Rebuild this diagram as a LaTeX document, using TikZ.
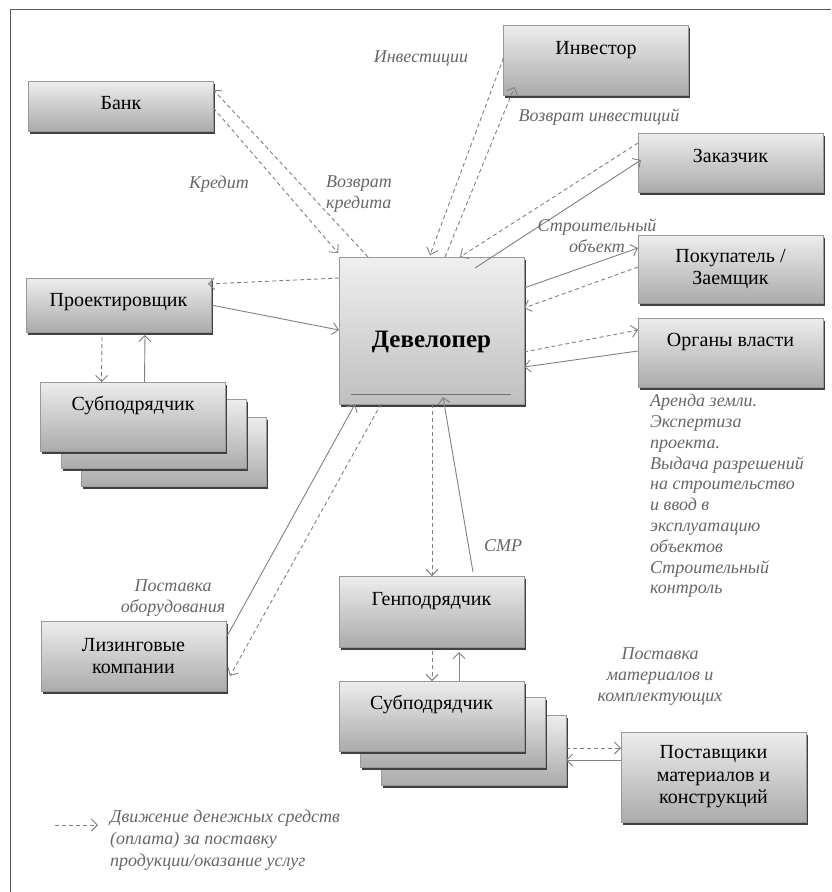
\documentclass[tikz,border=0pt]{standalone}
\usepackage{fontspec}
\setmainfont{Liberation Serif}
\usetikzlibrary{arrows.meta,shadows,calc}
\begin{document}
\begin{tikzpicture}[x=1pt,y=-1pt,
  box/.style={draw=black!40, line width=0.6pt, top color=black!7, bottom color=black!33,
    minimum width=185pt, inner sep=0pt, outer sep=0pt,
    font=\fontsize{20}{22.5}\selectfont, align=center,
    general shadow={fill=black!75, shadow xshift=1.5pt, shadow yshift=-2.5pt}},
  conn/.style={draw=black!50, line width=0.9pt, -{Straight Barb[length=6pt,width=12pt]}},
  money/.style={conn, dash pattern=on 4pt off 3pt},
  lbl/.style={font=\fontsize{18}{21}\selectfont\itshape, text=black!60, inner sep=0pt, align=center},
]
\useasboundingbox (0,0) rectangle (831,892);
\draw[black!65, line width=1pt] (10,892) -- (10,9) -- (831,9);

% boxes
\node[box, minimum height=50pt, text height=28pt, text depth=22pt] (bank) at (121,106) {Банк};
\node[box, minimum height=70pt, text height=29pt, text depth=41pt] (inv) at (596,60) {Инвестор};
\node[box, minimum height=59pt, text height=29pt, text depth=30pt] (zak) at (730.5,162.5) {Заказчик};
\node[box, minimum height=68pt] (pok) at (730.5,269) {Покупатель /\\Заемщик};
\node[box, minimum height=69pt, text height=28pt, text depth=41pt] (org) at (730.5,352.5) {Органы власти};
\node[box, minimum height=147pt, text height=90pt, text depth=57pt, top color=black!6, bottom color=black!25,
      font=\fontsize{25}{28}\selectfont\bfseries] (dev) at (431.5,330.5) {Девелопер};
\node[box, minimum height=54pt, text height=28pt, text depth=26pt] (proj) at (118.5,305) {Проектировщик};
\node[box, minimum height=69pt] (sub1c) at (174,451.5) {};
\node[box, minimum height=69pt] (sub1b) at (153.5,434) {};
\node[box, minimum height=69pt, text height=28pt, text depth=41pt] (sub1) at (133,416.5) {Субподрядчик};
\node[box, minimum height=70pt] (lease) at (133.5,656) {Лизинговые\\компании};
\node[box, minimum height=71pt, text height=29pt, text depth=42pt] (gen) at (431.5,611.5) {Генподрядчик};
\node[box, minimum height=70pt] (sub2c) at (473.5,750) {};
\node[box, minimum height=70pt] (sub2b) at (452.5,732.5) {};
\node[box, minimum height=70pt, text height=28pt, text depth=42pt] (sub2) at (431.5,716) {Субподрядчик};
\node[box, minimum height=90pt] (post) at (713.5,777) {Поставщики\\материалов и\\конструкций};

\draw[black!55, line width=1pt] ($(dev.south west)+(12,-10)$) -- ($(dev.south east)+(-13,-10)$);

% connectors
\draw[money] ($(bank.north east)+(0,27)$) -- ($(dev.north west)+(-1,-4)$);
\draw[money] ($(dev.north west)+(29,0)$) -- ($(bank.north east)+(0,9)$);
\draw[money] ($(inv.north west)+(0,33)$) -- ($(dev.north west)+(91,-2)$);
\draw[money] ($(dev.north west)+(106,0)$) -- ($(inv.south west)+(11,-8)$);
\draw[money] ($(zak.north west)+(0,10)$) -- ($(dev.north west)+(121,0)$);
\draw[conn] ($(dev.north west)+(136,11)$) -- ($(zak.north west)+(3,27)$);
\draw[conn] ($(dev.north east)+(0,31)$) -- ($(pok.north west)+(0,13)$);
\draw[money] ($(pok.north west)+(0,32)$) -- ($(dev.north east)+(0,51)$);
\draw[money] ($(dev.north east)+(0,95)$) -- ($(org.north west)+(0,12)$);
\draw[conn] ($(org.north west)+(0,33)$) -- ($(dev.north east)+(0,110)$);
\draw[money] ($(dev.north west)+(0,21)$) -- ($(proj.north east)+(-3,6)$);
\draw[conn] ($(proj.north east)+(0,27)$) -- ($(dev.north west)+(0,73)$);
\draw[money] ($(proj.south west)+(76,5)$) -- ($(sub1.north west)+(61,0)$);
\draw[conn] ($(sub1.north west)+(104,0)$) -- ($(proj.south west)+(119,3)$);
\draw[conn] ($(lease.north east)+(0,17)$) -- ($(dev.south west)+(16,0)$);
\draw[money] ($(dev.south west)+(42,0)$) -- ($(lease.north east)+(4,55)$);
\draw[money] ($(dev.south west)+(93,0)$) -- ($(gen.north west)+(93,0)$);
\draw[conn] ($(gen.north west)+(134,-4)$) -- ($(dev.south west)+(104,-7)$);
\draw[money] ($(gen.south west)+(93,4)$) -- ($(sub2.north west)+(93,0)$);
\draw[conn] ($(sub2.north west)+(120,0)$) -- ($(gen.south west)+(120,5)$);
\draw[money] ($(sub2c.north east)+(0,33)$) -- ($(post.north west)+(0,16)$);
\draw[conn] ($(post.north west)+(0,28)$) -- ($(sub2c.north east)+(0,45)$);

% labels
\node[lbl] (l-inv) at (421,58) {Инвестиции};
\node[lbl] (l-kred) at (219,184) {Кредит};
\node[lbl, align=left] (l-vk) at (359,194) {Возврат\\кредита};
\node[lbl] (l-vi) at (599,117) {Возврат инвестиций};
\node[lbl] (l-so) at (597,236) {Строительный\\объект};
\node[lbl, align=left, anchor=north west, font=\fontsize{18}{20.8}\selectfont\itshape] (l-org) at (650,394)
  {Аренда земли.\\Экспертиза\\проекта.\\Выдача разрешений\\на строительство\\и ввод в\\эксплуатацию\\объектов\\Строительный\\контроль};
\node[lbl] (l-smr) at (503,546) {СМР};
\node[lbl] (l-po) at (173,598) {Поставка\\оборудования};
\node[lbl] (l-pm) at (660,677) {Поставка\\материалов и\\комплектующих};
\coordinate (lg-a) at (55,825);
\coordinate (lg-b) at (98,825);
\draw[money] (lg-a) -- (lg-b);
\node[lbl, align=left, anchor=west, font=\fontsize{18}{22}\selectfont\itshape] (l-leg) at (110,840)
  {Движение денежных средств\\(оплата) за поставку\\продукции/оказание услуг};
\end{tikzpicture}
\end{document}
